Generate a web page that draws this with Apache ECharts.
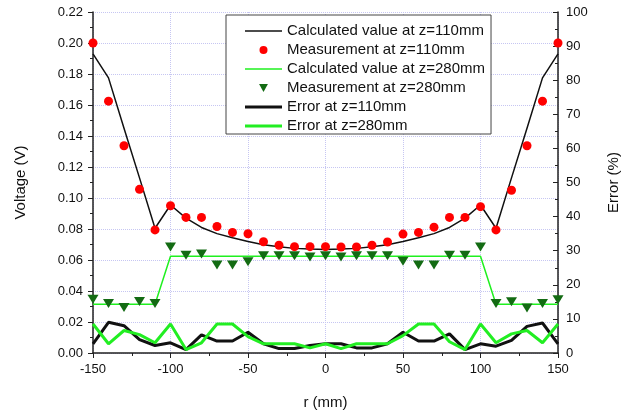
<!DOCTYPE html>
<html>
<head>
<meta charset="utf-8">
<script src="https://cdn.jsdelivr.net/npm/echarts@6/dist/echarts.min.js"></script>
<style>
  html, body { margin: 0; padding: 0; background: #fff; }
  #chart { width: 629px; height: 415px; }
</style>
</head>
<body>
<div id="chart"></div>
<script>
// r positions (mm)
const r = [-150, -140, -130, -120, -110, -100, -90, -80, -70, -60, -50, -40, -30, -20, -10,
  0, 10, 20, 30, 40, 50, 60, 70, 80, 90, 100, 110, 120, 130, 140, 150]

// voltage (V), left axis
const calc110 = [0.193, 0.1775, 0.145, 0.113, 0.0805, 0.0955, 0.087, 0.081, 0.077, 0.0743, 0.072,
  0.0698, 0.0686, 0.0675, 0.0671, 0.0668, 0.0671, 0.0675, 0.0686, 0.0698, 0.072, 0.0743, 0.077,
  0.081, 0.087, 0.0955, 0.0805, 0.113, 0.145, 0.1775, 0.193]
const meas110 = [0.200, 0.1625, 0.1337, 0.1056, 0.0794, 0.095, 0.0875, 0.0875, 0.0816, 0.0778, 0.0769,
  0.0718, 0.0695, 0.0686, 0.0686, 0.0686, 0.0684, 0.0684, 0.0695, 0.0716, 0.0767, 0.0778, 0.0812,
  0.0875, 0.0875, 0.0944, 0.0794, 0.105, 0.1337, 0.1625, 0.200]
const calc280 = [0.0315, 0.0315, 0.0315, 0.0315, 0.0315, 0.0624, 0.0624, 0.0624, 0.0624, 0.0624, 0.0624,
  0.0624, 0.0624, 0.0624, 0.0624, 0.0624, 0.0624, 0.0624, 0.0624, 0.0624, 0.0624, 0.0624, 0.0624,
  0.0624, 0.0624, 0.0624, 0.0315, 0.0315, 0.0315, 0.0315, 0.0315]
const meas280 = [0.0347, 0.032, 0.0294, 0.0332, 0.032, 0.0684, 0.063, 0.0639, 0.0567, 0.0567, 0.0588,
  0.0628, 0.0628, 0.0628, 0.062, 0.0628, 0.062, 0.0628, 0.0628, 0.0628, 0.0592, 0.0567, 0.0567,
  0.063, 0.063, 0.0684, 0.032, 0.033, 0.029, 0.032, 0.0343]

// error (%), right axis
const err110 = [2.7, 9.0, 8.0, 3.9, 2.2, 3.0, 1.0, 5.3, 3.5, 3.5, 6.1, 2.7, 1.3, 1.3, 2.2, 2.7,
  2.7, 1.5, 1.5, 2.7, 6.1, 3.5, 3.5, 5.6, 1.0, 2.7, 2.0, 3.7, 7.8, 8.8, 2.7]
const err280 = [8.5, 2.7, 6.6, 5.4, 3.0, 8.5, 1.0, 3.0, 8.5, 8.5, 4.8, 2.7, 2.7, 2.7, 1.5, 2.7,
  1.3, 2.7, 2.7, 2.7, 5.1, 8.5, 8.5, 3.3, 1.0, 8.5, 3.0, 5.6, 6.6, 3.0, 8.5]

const names = [
  'Calculated value at z=110mm',
  'Measurement at z=110mm',
  'Calculated value at z=280mm',
  'Measurement at z=280mm',
  'Error at z=110mm',
  'Error at z=280mm',
]

const font = 'Arial, "Liberation Sans", sans-serif'
const pairs = (ys) => r.map((x, i) => [x, ys[i]])

// legend icons: thin / thick line, down triangle
const thinLine = 'path://M0,0L37,0L37,1.5L0,1.5Z'
const thickLine = 'path://M0,0L37,0L37,3L0,3Z'
const downTri = 'path://M0,0L10,0L5,9Z'

const chart = echarts.init(document.getElementById('chart'))

chart.setOption({
  animation: false,
  backgroundColor: '#fff',
  textStyle: { fontFamily: font },
  grid: { left: 93, right: 69, top: 12, bottom: 59 },
  legend: {
    orient: 'vertical',
    left: 226,
    top: 15,
    data: [
      { name: names[0], icon: thinLine },
      { name: names[1], icon: 'circle' },
      { name: names[2], icon: thinLine },
      { name: names[3], icon: downTri },
      { name: names[4], icon: thickLine },
      { name: names[5], icon: thickLine },
    ],
    itemWidth: 37,
    itemHeight: 8,
    itemGap: 3,
    symbolKeepAspect: true,
    padding: [8, 6, 0, 19],
    backgroundColor: '#fff',
    borderColor: '#444',
    borderWidth: 1,
    textStyle: { fontSize: 15, lineHeight: 16, color: '#111', fontFamily: font },
  },
  xAxis: {
    type: 'value',
    min: -150,
    max: 150,
    interval: 50,
    name: 'r (mm)',
    nameLocation: 'middle',
    nameGap: 42,
    nameTextStyle: { fontSize: 15, color: '#111' },
    axisLine: { onZero: false, lineStyle: { color: '#222', width: 1.5 } },
    axisTick: { length: 5, lineStyle: { color: '#222' } },
    minorTick: { show: true, splitNumber: 2, length: 3, lineStyle: { color: '#222' } },
    axisLabel: { fontSize: 13, color: '#111', margin: 10 },
    splitLine: { show: true, lineStyle: { color: '#c6c6f2', type: 'dotted' } },
  },
  yAxis: [{
    type: 'value',
    min: 0,
    max: 0.22,
    interval: 0.02,
    name: 'Voltage (V)',
    nameLocation: 'middle',
    nameRotate: 90,
    nameGap: 65,
    nameTextStyle: { fontSize: 15, color: '#111' },
    axisLine: { show: true, onZero: false, lineStyle: { color: '#222', width: 1.5 } },
    axisTick: { show: true, length: 5, lineStyle: { color: '#222' } },
    minorTick: { show: true, splitNumber: 2, length: 3, lineStyle: { color: '#222' } },
    axisLabel: { fontSize: 13, color: '#111', margin: 10, formatter: (v) => v.toFixed(2) },
    splitLine: { show: true, lineStyle: { color: '#c6c6f2', type: 'dotted' } },
  }, {
    type: 'value',
    position: 'right',
    min: 0,
    max: 100,
    interval: 10,
    name: 'Error (%)',
    nameLocation: 'middle',
    nameRotate: 90,
    nameGap: 48,
    nameTextStyle: { fontSize: 15, color: '#111' },
    axisLine: { show: true, onZero: false, lineStyle: { color: '#222', width: 1.5 } },
    axisTick: { show: true, inside: true, length: 5, lineStyle: { color: '#222' } },
    minorTick: { show: true, splitNumber: 2, length: 3, lineStyle: { color: '#222' } },
    axisLabel: { fontSize: 13, color: '#111', margin: 8 },
    splitLine: { show: false },
  }],
  series: [{
    name: names[0],
    type: 'line',
    data: pairs(calc110),
    symbol: 'none',
    lineStyle: { color: '#111', width: 1.5 },
    itemStyle: { color: '#111' },
    z: 3,
  }, {
    name: names[1],
    type: 'scatter',
    data: pairs(meas110),
    symbol: 'circle',
    symbolSize: 9,
    itemStyle: { color: '#ff0000', opacity: 1 },
    clip: false,
    z: 4,
  }, {
    name: names[2],
    type: 'line',
    data: pairs(calc280),
    symbol: 'none',
    lineStyle: { color: '#1ff01f', width: 1.5 },
    itemStyle: { color: '#1ff01f' },
    z: 3,
  }, {
    name: names[3],
    type: 'scatter',
    data: pairs(meas280),
    symbol: downTri,
    symbolSize: [11, 9],
    itemStyle: { color: '#136b13', opacity: 1 },
    clip: false,
    z: 4,
  }, {
    name: names[4],
    type: 'line',
    yAxisIndex: 1,
    data: pairs(err110),
    symbol: 'none',
    lineStyle: { color: '#111', width: 3 },
    itemStyle: { color: '#111' },
    z: 2,
  }, {
    name: names[5],
    type: 'line',
    yAxisIndex: 1,
    data: pairs(err280),
    symbol: 'none',
    lineStyle: { color: '#22ee22', width: 3 },
    itemStyle: { color: '#22ee22' },
    z: 2,
  }],
})
</script>
</body>
</html>
